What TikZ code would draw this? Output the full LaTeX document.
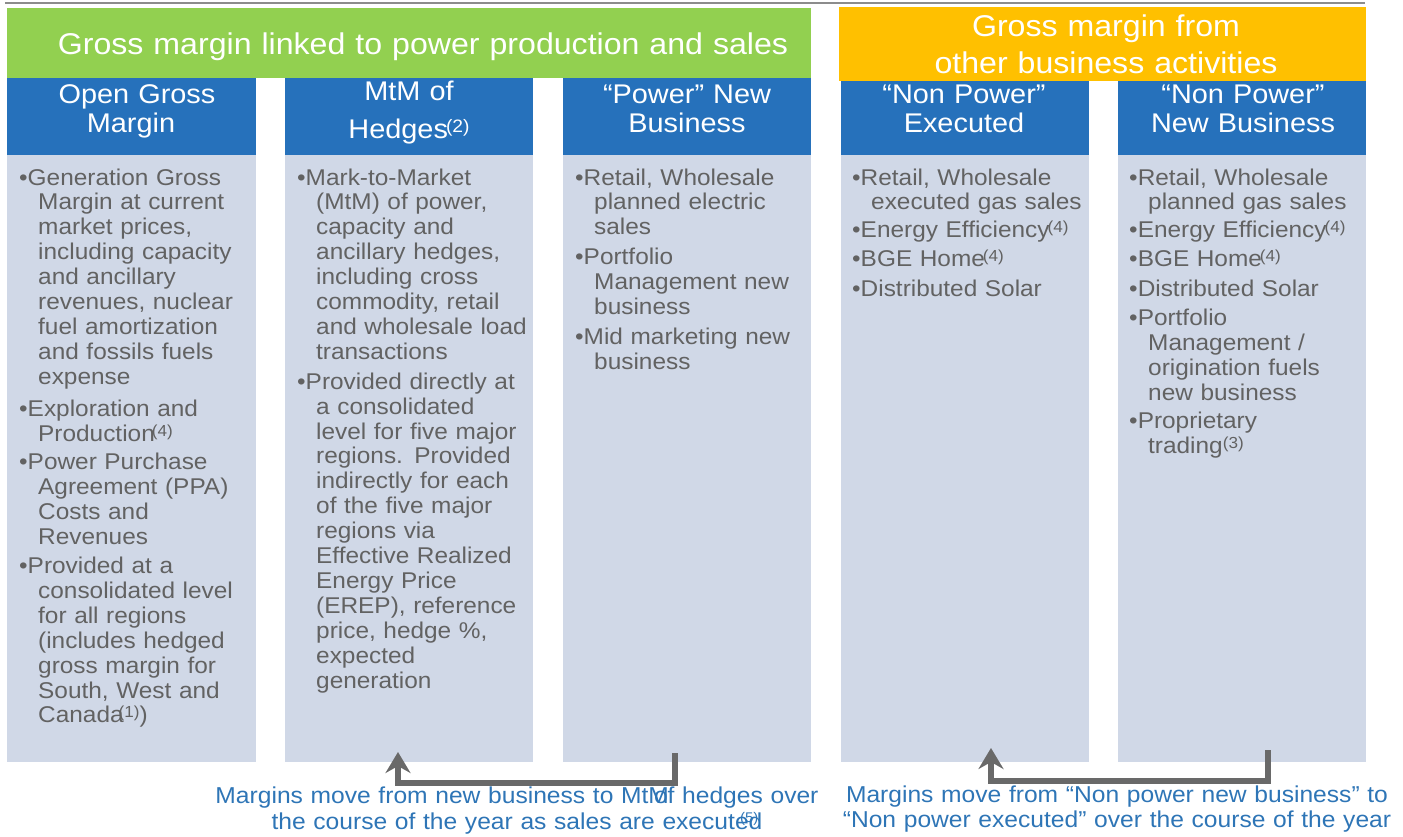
\documentclass[tikz,border=0pt]{standalone}
\usepackage{fontspec}
\setmainfont{Liberation Sans}[FakeStretch=1.07]
\usetikzlibrary{arrows.meta}
\definecolor{hdrblue}{RGB}{38,113,187}
\definecolor{bodyblue}{RGB}{208,216,231}
\definecolor{txtgray}{RGB}{98,98,98}
\definecolor{capblue}{RGB}{46,117,182}
\definecolor{grn}{RGB}{146,208,80}
\definecolor{org}{RGB}{255,192,0}
\definecolor{arrgray}{RGB}{105,105,105}
\definecolor{topline}{RGB}{140,140,140}
\newcommand\bfirst{\hangindent=19pt\hangafter=1\noindent•\ignorespaces}
\newcommand\bnext[1][5pt]{\par\vskip#1\relax\hangindent=19pt\hangafter=1\noindent•\ignorespaces}
\newcommand\fnote[2][-2pt]{\kern#1\raisebox{5pt}{\fontsize{16}{16}\selectfont(#2)}}
\newcommand\hnote[1]{\kern-2pt\raisebox{6pt}{\fontsize{18}{18}\selectfont(#1)}}
\tikzset{
  hdrbox/.style={fill=hdrblue},
  bodybox/.style={fill=bodyblue},
  hdrtext/.style={text=white, font=\fontsize{27}{29}\selectfont, text width=250pt, align=center, anchor=base, inner sep=0pt},
  bodytext/.style={text=txtgray, font=\fontsize{22.8}{24.9}\selectfont, text width=260pt, align=left, anchor=base west, inner sep=0pt},
  titletext/.style={text=white, font=\fontsize{30}{37}\selectfont, text width=800pt, align=center, anchor=base, inner sep=0pt},
  captext/.style={text=capblue, font=\fontsize{23}{26}\selectfont, text width=620pt, align=center, anchor=base, inner sep=0pt},
  flow/.style={draw=arrgray, line width=5.5pt, -{Stealth[length=21pt,width=25pt,inset=7pt]}}
}
\begin{document}
\begin{tikzpicture}[x=1pt,y=-1pt]
\useasboundingbox (0,0) rectangle (1403,836);
% top rule
\coordinate (tl1) at (5,3);
\coordinate (tl2) at (1365,3);
\draw[topline, line width=2pt] (tl1) -- (tl2);
% column headers and bodies
\fill[hdrbox] (7,76) rectangle (256,155);
\fill[hdrbox] (285,76) rectangle (533,155);
\fill[hdrbox] (563,76) rectangle (811,155);
\fill[hdrbox] (841,79) rectangle (1089,155);
\fill[hdrbox] (1118,79) rectangle (1366,155);
\fill[bodybox] (7,155) rectangle (256,762);
\fill[bodybox] (285,155) rectangle (533,762);
\fill[bodybox] (563,155) rectangle (811,762);
\fill[bodybox] (841,155) rectangle (1089,762);
\fill[bodybox] (1118,155) rectangle (1366,762);
% group bands
\fill[grn] (7,8) rectangle (811,78);
\fill[org] (839,7) rectangle (1366,81);
\node[titletext] (t1) at (423,54) {Gross margin linked to power production and sales};
\node[titletext, text width=520pt] (t2) at (1106,36) {Gross margin from\\other business activities};
% header texts
\node[hdrtext] (h1) at (131,103) {\hspace*{12pt}Open Gross\\Margin};
\node[hdrtext, font=\fontsize{27}{38}\selectfont] (h2) at (409,100) {MtM of\\Hedges\hnote{2}};
\node[hdrtext] (h3) at (687,103) {“Power” New\\Business};
\node[hdrtext] (h4) at (964,103) {“Non Power”\\Executed};
\node[hdrtext] (h5) at (1243,103) {“Non Power”\\New Business};
% body texts
\node[bodytext] (b1) at (19,185) {\bfirst Generation Gross\newline Margin at current\newline market prices,\newline including capacity\newline and ancillary\newline revenues, nuclear\newline fuel amortization\newline and fossils fuels\newline expense
\bnext[7pt] Exploration and\newline Production\fnote[-3pt]{4}
\bnext[4pt] Power Purchase\newline Agreement (PPA)\newline Costs and\newline Revenues
\bnext[4pt] Provided at a\newline consolidated level\newline for all regions\newline (includes hedged\newline gross margin for\newline South, West and\newline Canada\fnote[-5pt]{1})\par};
\node[bodytext] (b2) at (297,185) {\bfirst Mark-to-Market\newline (MtM) of power,\newline capacity and\newline ancillary hedges,\newline including cross\newline commodity, retail\newline and wholesale load\newline transactions
\bnext[5pt] Provided directly at\newline a consolidated\newline level for five major\newline regions. Provided\newline indirectly for each\newline of the five major\newline regions via\newline Effective Realized\newline Energy Price\newline (EREP), reference\newline price, hedge \%,\newline expected\newline generation\par};
\node[bodytext] (b3) at (575,185) {\bfirst Retail, Wholesale\newline planned electric\newline sales
\bnext[5pt] Portfolio\newline Management new\newline business
\bnext[5pt] Mid marketing new\newline business\par};
\node[bodytext] (b4) at (852,185) {\bfirst Retail, Wholesale\newline executed gas sales
\bnext[3pt] Energy Efficiency\fnote{4}
\bnext[4pt] BGE Home\fnote{4}
\bnext[5pt] Distributed Solar\par};
\node[bodytext] (b5) at (1129,185) {\bfirst Retail, Wholesale\newline planned gas sales
\bnext[3pt] Energy Efficiency\fnote{4}
\bnext[4pt] BGE Home\fnote{4}
\bnext[5pt] Distributed Solar
\bnext[4pt] Portfolio\newline Management /\newline origination fuels\newline new business
\bnext[3pt] Proprietary\newline trading\fnote[0pt]{3}\par};
% flow arrows
\coordinate (a1s) at (675,753);
\coordinate (a1e) at (398,752);
\coordinate (a2s) at (1268,750);
\coordinate (a2e) at (991,748);
\draw[flow] (a1s) -- ++(0,30) -| (a1e);
\draw[flow] (a2s) -- ++(0,31) -| (a2e);
% captions
\node[captext] (c1) at (517,803) {Margins move from new business to MtM\kern-15pt of hedges over\\the course of the year as sales are executed\llap{\raisebox{7pt}{\fontsize{14}{14}\selectfont(5)}\kern4pt}};
\node[captext, font=\fontsize{23}{25.5}\selectfont] (c2) at (1117,802) {Margins move from “Non power new business” to\\“Non power executed” over the course of the year};
\end{tikzpicture}
\end{document}
